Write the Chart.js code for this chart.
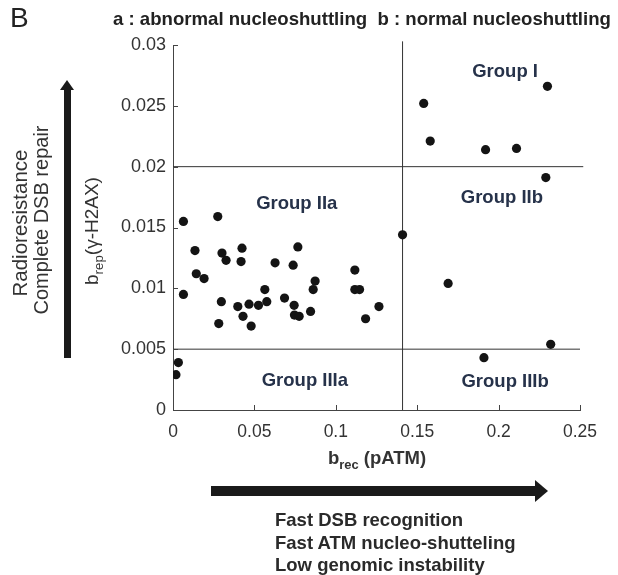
<!DOCTYPE html>
<html>
<head>
<meta charset="utf-8">
<script src="https://cdn.jsdelivr.net/npm/chart.js@4.4.1/dist/chart.umd.min.js"></script>
<style>
  html, body { margin: 0; padding: 0; background: #ffffff; }
  #wrap { position: relative; width: 618px; height: 575px; overflow: hidden; font-family: "Liberation Sans", Arial, sans-serif; color: #222; }
  #c { position: absolute; left: 0; top: 0; }
  .t { position: absolute; white-space: nowrap; }
  .rot { transform: translate(-50%, -50%) rotate(-90deg); }
  sub { font-size: 0.7em; vertical-align: -0.35em; line-height: 0; }
  .arrowV { position: absolute; left: 64px; top: 88px; width: 7px; height: 270px; background: #1a1a1a; }
  .arrowVh { position: absolute; left: 60px; top: 80px; width: 0; height: 0; border-left: 7.5px solid transparent; border-right: 7.5px solid transparent; border-bottom: 10px solid #1a1a1a; }
  .arrowH { position: absolute; left: 211px; top: 486px; width: 326px; height: 10px; background: #1a1a1a; }
  .arrowHh { position: absolute; left: 535px; top: 480px; width: 0; height: 0; border-top: 11px solid transparent; border-bottom: 11px solid transparent; border-left: 13px solid #1a1a1a; }
</style>
</head>
<body>
<div id="wrap">
  <canvas id="c" width="618" height="575"></canvas>
  <div class="t" style="left:10px; top:2px; font-size:28px; color:#222;">B</div>
  <div class="t" style="left:113px; top:8px; font-size:18.6px; font-weight:bold;">a : abnormal nucleoshuttling&nbsp; b : normal nucleoshuttling</div>
  <div class="t rot" style="left:20px; top:223px; font-size:20.5px; color:#333;">Radioresistance</div>
  <div class="t rot" style="left:41px; top:220px; font-size:20px; color:#333;">Complete DSB repair</div>
  <div class="arrowVh"></div>
  <div class="arrowV"></div>
  <div class="t rot" style="left:92px; top:231px; font-size:19px; color:#333;">b<sub>rep</sub>(γ-H2AX)</div>
  <div class="t" style="left:377px; top:458px; transform: translate(-50%,-50%); font-size:18.5px; font-weight:bold; color:#333;">b<sub>rec</sub> (pATM)</div>
  <div class="arrowH"></div>
  <div class="arrowHh"></div>
  <div class="t" style="left:275px; top:509px; font-size:18.5px; font-weight:bold; color:#2a2a2a; line-height:22.5px;">Fast DSB recognition<br>Fast ATM nucleo-shutteling<br>Low genomic instability</div>
</div>
<script>
// ---- data ----
const xValues = [
  0.154, 0.158, 0.230, 0.192, 0.211,
  0.229, 0.141, 0.169, 0.232, 0.191,
  0.0064, 0.0275, 0.0135, 0.0301, 0.0326, 0.0424, 0.0418, 0.0143, 0.0191,
  0.0627, 0.0767, 0.0738, 0.1117, 0.0873,
  0.0064, 0.0297, 0.0281, 0.0398, 0.0430, 0.0467, 0.0480, 0.0525, 0.0564,
  0.0576, 0.0685, 0.0744, 0.0746, 0.0775, 0.0845, 0.0861, 0.1117, 0.1146,
  0.1183, 0.1265, 0.0033, 0.0018
];
const yValues = [
  0.0252, 0.0221, 0.0266, 0.0214, 0.0215,
  0.0191, 0.0144, 0.0104, 0.0054, 0.0043,
  0.0155, 0.0159, 0.0131, 0.0129, 0.0123, 0.0133, 0.0122, 0.0112, 0.0108,
  0.0121, 0.0134, 0.0119, 0.0115, 0.0106,
  0.0095, 0.0089, 0.0071, 0.0085, 0.0077, 0.0087, 0.0069, 0.0086, 0.0099,
  0.0089, 0.0092, 0.0086, 0.0078, 0.0077, 0.0081, 0.0099, 0.0099, 0.0099,
  0.0075, 0.0085, 0.0039, 0.0029
];
const xTicks = [0, 0.05, 0.1, 0.15, 0.2, 0.25];
const xTickLabels = ["0", "0.05", "0.1", "0.15", "0.2", "0.25"];
const yTicks = [0, 0.005, 0.01, 0.015, 0.02, 0.025, 0.03];
const yTickLabels = ["0", "0.005", "0.01", "0.015", "0.02", "0.025", "0.03"];
const thresholdX = 0.141;       // vertical divider
const thresholdYHigh = 0.02;    // upper horizontal divider
const thresholdYLow = 0.005;    // lower horizontal divider
const groupNames = ["Group I", "Group IIa", "Group IIb", "Group IIIa", "Group IIIb"];
const groupX = [0.204, 0.076, 0.202, 0.081, 0.204];
const groupY = [0.0278, 0.0169, 0.0174, 0.0024, 0.0023];

const points = xValues.map((x, i) => ({ x: x, y: yValues[i] }));

const inwardTicks = {
  id: 'inwardTicks',
  afterDatasetsDraw(chart) {
    const { ctx, chartArea, scales } = chart;
    ctx.save();
    ctx.strokeStyle = '#444';
    ctx.lineWidth = 1;
    ctx.beginPath();
    xTicks.forEach(v => {
      const px = Math.round(scales.x.getPixelForValue(v)) + 0.5;
      ctx.moveTo(px, chartArea.bottom);
      ctx.lineTo(px, chartArea.bottom - 5);
    });
    yTicks.forEach(v => {
      const py = Math.round(scales.y.getPixelForValue(v)) + 0.5;
      ctx.moveTo(chartArea.left, py);
      ctx.lineTo(chartArea.left + 5, py);
    });
    ctx.stroke();
    // group labels positioned in data coordinates
    ctx.fillStyle = '#26324a';
    ctx.font = 'bold 18.5px "Liberation Sans", Arial, sans-serif';
    ctx.textAlign = 'center';
    ctx.textBaseline = 'middle';
    groupNames.forEach((g, i) => {
      ctx.fillText(g, scales.x.getPixelForValue(groupX[i]), scales.y.getPixelForValue(groupY[i]));
    });
    ctx.restore();
  }
};

new Chart(document.getElementById('c'), {
  type: 'scatter',
  data: {
    datasets: [
      {
        label: 'cells',
        data: points,
        pointRadius: 4.6,
        pointHoverRadius: 4.6,
        backgroundColor: '#141414',
        borderWidth: 0
      },
      {
        type: 'line', label: 'v', data: [{ x: thresholdX, y: 0 }, { x: thresholdX, y: 0.0303 }],
        borderColor: '#333', borderWidth: 1, pointRadius: 0, showLine: true, clip: false
      },
      {
        type: 'line', label: 'h1', data: [{ x: 0, y: thresholdYHigh }, { x: 0.252, y: thresholdYHigh }],
        borderColor: '#333', borderWidth: 1, pointRadius: 0, showLine: true, clip: false
      },
      {
        type: 'line', label: 'h2', data: [{ x: 0, y: thresholdYLow }, { x: 0.25, y: thresholdYLow }],
        borderColor: '#333', borderWidth: 1, pointRadius: 0, showLine: true, clip: false
      }
    ]
  },
  options: {
    responsive: false,
    animation: false,
    events: [],
    layout: { padding: { left: 0, top: 45, right: 38, bottom: 0 } },
    plugins: { legend: { display: false }, tooltip: { enabled: false }, title: { display: false } },
    scales: {
      x: {
        type: 'linear', min: 0, max: 0.25,
        afterFit(s) { s.height = 165; },
        afterBuildTicks(s) { s.ticks = xTicks.map(v => ({ value: v })); },
        grid: { display: true, drawOnChartArea: false, drawTicks: false },
        border: { display: true, color: '#444', width: 1 },
        ticks: {
          padding: 12, color: '#333',
          font: { family: '"Liberation Sans", Arial, sans-serif', size: 17.5 },
          callback: (v) => { const i = xTicks.indexOf(v); return i >= 0 ? xTickLabels[i] : ''; }
        }
      },
      y: {
        type: 'linear', min: 0, max: 0.03,
        afterFit(s) { s.width = 173; },
        afterBuildTicks(s) { s.ticks = yTicks.map(v => ({ value: v })); },
        grid: { display: true, drawOnChartArea: false, drawTicks: false },
        border: { display: true, color: '#444', width: 1 },
        ticks: {
          padding: 7, color: '#333',
          font: { family: '"Liberation Sans", Arial, sans-serif', size: 18 },
          callback: (v) => { const i = yTicks.indexOf(v); return i >= 0 ? yTickLabels[i] : ''; }
        }
      }
    }
  },
  plugins: [inwardTicks]
});
</script>
</body>
</html>
